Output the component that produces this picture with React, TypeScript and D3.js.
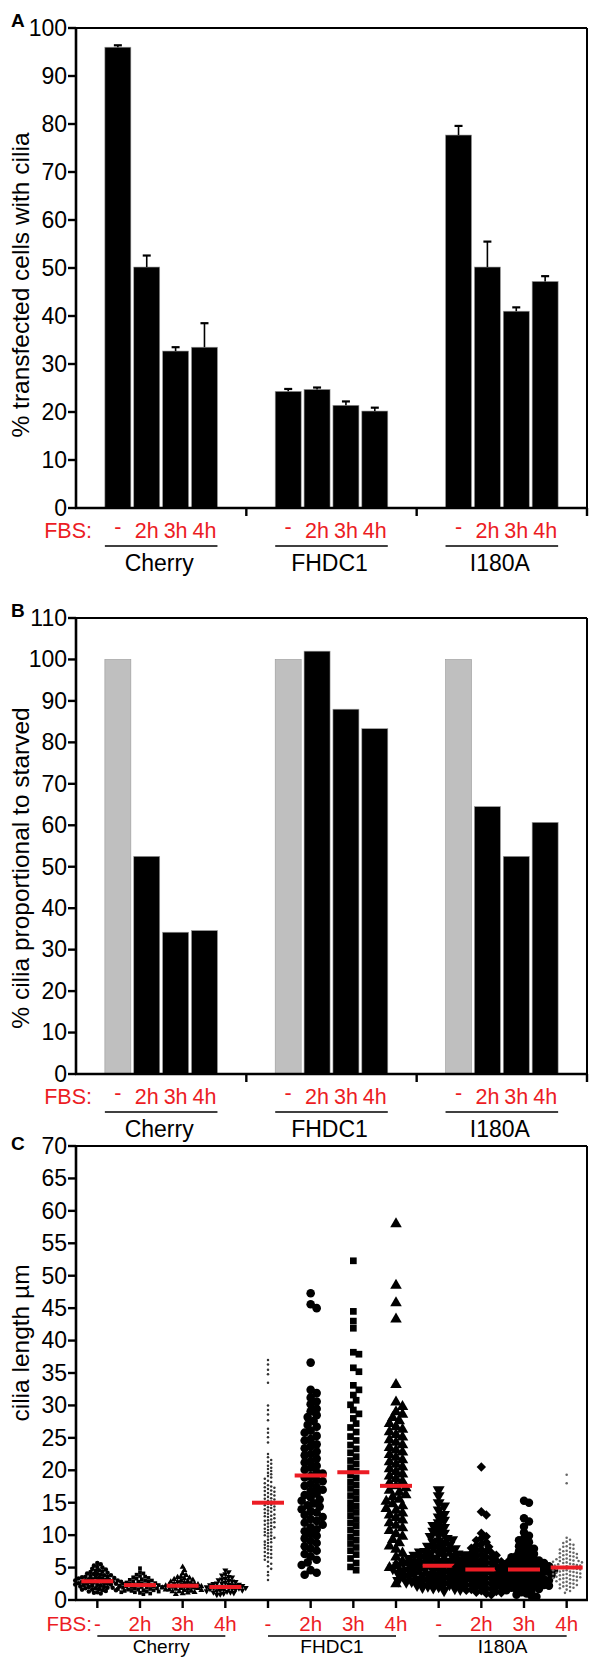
import * as d3 from 'd3'

const W = 589
const H = 1657
const FONT = 'Arial, "Liberation Sans", Helvetica, sans-serif'
const RED = '#ec1c24'
const X0 = 76
const X1 = 587

const groups = ['Cherry', 'FHDC1', 'I180A']
const conditions = ['-', '2h', '3h', '4h']
const keys = groups.flatMap(g => conditions.map(c => `${g}|${c}`))

// panel A: % transfected cells with cilia (mean, error)
const pctCilia = [96.0, 50.2, 32.7, 33.5, 24.3, 24.7, 21.4, 20.2, 77.7, 50.2, 41.0, 47.2]
const pctErr = [0.4, 2.4, 0.8, 5.0, 0.5, 0.4, 0.8, 0.7, 1.9, 5.3, 0.8, 1.1]

// panel B: % cilia relative to starved
const pctStarved = [100, 52.5, 34.2, 34.6, 100, 102.0, 88.0, 83.3, 100, 64.5, 52.5, 60.7]

// panel C: cilia length (um), one list per column
const lenCherryNeg = [5.7, 5.5, 5.3, 5.1, 5.0, 4.8, 4.7, 4.6, 4.5, 4.4, 4.3, 4.2, 4.1, 4.0, 4.0, 3.9, 3.8, 3.8, 3.7, 3.6, 3.6, 3.5, 3.5, 3.4, 3.4, 3.3, 3.3, 3.2, 3.2, 3.1, 3.1, 3.0, 3.0, 3.0, 2.9, 2.9, 2.8, 2.8, 2.8, 2.7, 2.7, 2.6, 2.6, 2.5, 2.5, 2.5, 2.4, 2.4, 2.3, 2.3, 2.2, 2.2, 2.1, 2.1, 2.0, 2.0, 1.9, 1.9, 1.8, 1.8, 1.7, 1.6, 1.6, 1.5, 1.5, 1.4, 1.3, 1.2, 1.1, 1.0]
const lenCherry2h = [4.9, 4.3, 4.1, 3.9, 3.7, 3.6, 3.5, 3.4, 3.3, 3.2, 3.1, 3.0, 3.0, 2.9, 2.8, 2.8, 2.7, 2.6, 2.6, 2.5, 2.5, 2.4, 2.4, 2.3, 2.3, 2.2, 2.2, 2.1, 2.1, 2.0, 2.0, 2.0, 1.9, 1.9, 1.8, 1.8, 1.7, 1.7, 1.6, 1.6, 1.5, 1.5, 1.4, 1.4, 1.3, 1.3, 1.2, 1.2, 1.1, 1.0, 0.9]
const lenCherry3h = [5.1, 4.6, 4.1, 3.8, 3.6, 3.5, 3.4, 3.3, 3.2, 3.1, 3.0, 2.9, 2.8, 2.8, 2.7, 2.6, 2.5, 2.5, 2.4, 2.4, 2.3, 2.3, 2.2, 2.2, 2.1, 2.1, 2.0, 2.0, 1.9, 1.9, 1.8, 1.8, 1.7, 1.7, 1.6, 1.6, 1.5, 1.5, 1.4, 1.3, 1.3, 1.2, 1.1, 1.0, 0.9]
const lenCherry4h = [4.6, 4.3, 4.0, 3.8, 3.6, 3.5, 3.3, 3.2, 3.1, 3.0, 2.9, 2.8, 2.7, 2.6, 2.6, 2.5, 2.4, 2.4, 2.3, 2.3, 2.2, 2.2, 2.1, 2.1, 2.0, 2.0, 1.9, 1.9, 1.8, 1.8, 1.7, 1.7, 1.6, 1.6, 1.5, 1.5, 1.4, 1.4, 1.3, 1.2, 1.2, 1.1, 1.0, 0.9, 0.8]
const lenFhdcNeg = [37.0, 36.3, 35.5, 34.8, 33.5, 30.0, 29.3, 28.6, 27.7, 26.4, 25.8, 25.1, 24.3, 22.5, 22.0, 21.6, 21.3, 21.0, 20.7, 20.4, 20.2, 19.9, 19.6, 19.4, 19.1, 18.9, 18.7, 18.4, 18.2, 18.0, 17.7, 17.5, 17.4, 17.3, 17.1, 16.9, 16.8, 16.7, 16.5, 16.3, 16.2, 16.1, 15.9, 15.7, 15.6, 15.5, 15.3, 15.2, 15.1, 14.9, 14.8, 14.7, 14.6, 14.4, 14.3, 14.2, 14.0, 13.9, 13.8, 13.6, 13.4, 13.3, 13.2, 13.0, 12.9, 12.8, 12.6, 12.4, 12.3, 12.2, 12.0, 11.9, 11.8, 11.6, 11.4, 11.3, 11.2, 11.0, 10.9, 10.8, 10.5, 10.4, 10.3, 10.0, 9.9, 9.8, 9.6, 9.4, 9.3, 9.0, 8.9, 8.8, 8.5, 8.3, 8.2, 8.0, 7.8, 7.7, 7.4, 7.2, 7.1, 6.8, 6.6, 6.5, 6.2, 5.9, 5.6, 5.2, 4.8, 4.3, 3.8, 3.1]
const lenFhdc2h = [47.3, 45.6, 45.0, 36.6, 32.4, 31.9, 31.2, 30.6, 30.2, 29.5, 29.1, 28.5, 28.2, 27.6, 27.0, 26.7, 26.1, 25.8, 25.3, 24.8, 24.6, 24.0, 23.7, 23.4, 22.9, 22.5, 22.3, 21.8, 21.4, 21.2, 20.7, 20.4, 20.1, 19.7, 19.5, 19.1, 18.9, 18.5, 18.3, 17.9, 17.6, 17.4, 17.0, 16.8, 16.4, 16.2, 15.8, 15.5, 15.3, 14.9, 14.6, 14.4, 14.0, 13.7, 13.5, 13.1, 12.8, 12.5, 12.2, 11.9, 11.6, 11.2, 10.9, 10.6, 10.2, 9.9, 9.5, 9.1, 8.8, 8.3, 7.9, 7.6, 7.1, 6.7, 6.2, 5.8, 5.4, 4.6, 4.2, 3.9]
const lenFhdc3h = [52.3, 44.5, 43.0, 41.9, 38.2, 37.9, 35.8, 35.2, 33.1, 32.4, 31.6, 30.8, 30.1, 29.3, 28.7, 28.0, 27.2, 26.6, 25.9, 25.2, 24.6, 23.9, 23.3, 22.7, 22.1, 21.5, 21.0, 20.4, 19.9, 19.3, 18.8, 18.2, 17.7, 17.2, 16.6, 16.1, 15.6, 15.0, 14.5, 14.0, 13.5, 13.0, 12.4, 11.9, 11.4, 10.8, 10.3, 9.7, 9.2, 8.7, 8.1, 7.6, 7.0, 6.4, 5.7, 5.1, 4.6]
const lenFhdc4h = [58.0, 48.5, 45.8, 43.3, 33.2, 30.5, 29.8, 29.0, 28.6, 28.1, 27.6, 27.2, 26.7, 26.3, 25.9, 25.5, 25.1, 24.7, 24.3, 23.9, 23.5, 23.1, 22.8, 22.4, 22.0, 21.6, 21.3, 20.9, 20.5, 20.2, 19.8, 19.4, 19.1, 18.7, 18.3, 18.0, 17.6, 17.3, 16.9, 16.6, 16.2, 15.9, 15.5, 15.2, 14.8, 14.5, 14.1, 13.8, 13.4, 13.1, 12.7, 12.3, 11.9, 11.5, 11.1, 10.7, 10.2, 9.8, 9.3, 8.8, 8.3, 7.8, 7.2, 6.6, 6.0, 5.5, 5.0, 2.5]
const lenI180Neg = [17.0, 16.1, 15.0, 14.5, 13.9, 13.2, 12.8, 12.3, 11.9, 11.5, 11.2, 10.9, 10.6, 10.3, 10.0, 9.8, 9.5, 9.3, 9.1, 8.9, 8.7, 8.5, 8.3, 8.2, 8.0, 7.9, 7.7, 7.6, 7.5, 7.4, 7.3, 7.2, 7.1, 7.0, 6.9, 6.8, 6.8, 6.7, 6.6, 6.5, 6.5, 6.4, 6.3, 6.2, 6.2, 6.1, 6.0, 6.0, 5.9, 5.8, 5.8, 5.7, 5.7, 5.6, 5.6, 5.5, 5.4, 5.4, 5.3, 5.3, 5.2, 5.2, 5.1, 5.0, 5.0, 4.9, 4.9, 4.8, 4.8, 4.7, 4.6, 4.6, 4.5, 4.5, 4.4, 4.4, 4.3, 4.2, 4.2, 4.1, 4.1, 4.0, 4.0, 3.9, 3.8, 3.8, 3.7, 3.7, 3.6, 3.6, 3.5, 3.4, 3.4, 3.3, 3.3, 3.2, 3.2, 3.1, 3.0, 3.0, 2.9, 2.9, 2.8, 2.8, 2.7, 2.6, 2.6, 2.5, 2.4, 2.3, 2.2, 2.1, 2.0, 1.9, 1.8, 1.7, 1.5]
const lenI1802h = [20.5, 13.6, 13.1, 10.3, 9.8, 9.5, 9.2, 8.9, 8.6, 8.4, 8.2, 8.0, 7.8, 7.6, 7.5, 7.3, 7.2, 7.0, 6.9, 6.8, 6.6, 6.5, 6.4, 6.3, 6.2, 6.1, 6.0, 5.9, 5.8, 5.7, 5.6, 5.5, 5.5, 5.4, 5.3, 5.2, 5.2, 5.1, 5.0, 4.9, 4.9, 4.8, 4.7, 4.7, 4.6, 4.5, 4.5, 4.4, 4.3, 4.3, 4.2, 4.1, 4.1, 4.0, 3.9, 3.9, 3.8, 3.7, 3.7, 3.6, 3.5, 3.5, 3.4, 3.3, 3.3, 3.2, 3.1, 3.1, 3.0, 2.9, 2.9, 2.8, 2.7, 2.7, 2.6, 2.5, 2.5, 2.4, 2.3, 2.3, 2.2, 2.1, 2.0, 1.9, 1.8, 1.7, 1.6, 1.5, 1.4, 1.3, 1.2, 1.1, 1.0, 0.8]
const lenI1803h = [15.3, 15.0, 12.6, 12.1, 11.3, 10.4, 9.9, 9.5, 9.2, 8.9, 8.6, 8.3, 8.1, 7.9, 7.7, 7.5, 7.3, 7.1, 6.9, 6.8, 6.6, 6.5, 6.3, 6.2, 6.1, 6.0, 5.9, 5.8, 5.7, 5.6, 5.5, 5.4, 5.3, 5.3, 5.2, 5.1, 5.0, 5.0, 4.9, 4.8, 4.7, 4.7, 4.6, 4.5, 4.4, 4.4, 4.3, 4.2, 4.1, 4.1, 4.0, 3.9, 3.8, 3.8, 3.7, 3.6, 3.5, 3.5, 3.4, 3.3, 3.2, 3.2, 3.1, 3.0, 2.9, 2.9, 2.8, 2.7, 2.6, 2.6, 2.5, 2.4, 2.3, 2.3, 2.2, 2.1, 2.0, 1.9, 1.8, 1.7, 1.6, 1.5, 1.4, 1.2, 1.0, 0.8, 0.6, 0.5]
const lenI1804h = [19.3, 18.0, 9.6, 9.3, 9.0, 8.8, 8.6, 8.5, 8.3, 8.2, 8.0, 7.9, 7.8, 7.6, 7.5, 7.4, 7.3, 7.2, 7.1, 7.0, 6.9, 6.8, 6.7, 6.6, 6.5, 6.4, 6.3, 6.3, 6.2, 6.1, 6.0, 6.0, 5.9, 5.8, 5.8, 5.7, 5.6, 5.5, 5.5, 5.4, 5.3, 5.3, 5.2, 5.1, 5.0, 5.0, 4.9, 4.8, 4.8, 4.7, 4.6, 4.6, 4.5, 4.4, 4.4, 4.3, 4.2, 4.2, 4.1, 4.0, 4.0, 3.9, 3.8, 3.8, 3.7, 3.6, 3.6, 3.5, 3.4, 3.4, 3.3, 3.2, 3.2, 3.1, 3.0, 2.9, 2.8, 2.7, 2.6, 2.5, 2.4, 2.3, 2.2, 2.1, 2.0, 1.9, 1.8, 1.6, 1.4, 1.1]
const lengths = [lenCherryNeg, lenCherry2h, lenCherry3h, lenCherry4h, lenFhdcNeg, lenFhdc2h, lenFhdc3h, lenFhdc4h, lenI180Neg, lenI1802h, lenI1803h, lenI1804h]
const lenMeans = [2.9, 2.3, 2.2, 2.0, 15.0, 19.2, 19.7, 17.6, 5.3, 4.7, 4.7, 5.0]

// marker look per column in panel C
const markers = [
  { shape: d3.symbolCircle, size: 16, rot: 0, fill: '#000', dist: 3.4 },
  { shape: d3.symbolSquare, size: 14, rot: 0, fill: '#000', dist: 3.4 },
  { shape: d3.symbolTriangle, size: 16, rot: 0, fill: '#000', dist: 3.4 },
  { shape: d3.symbolTriangle, size: 16, rot: 180, fill: '#000', dist: 3.4 },
  { shape: d3.symbolCircle, size: 5, rot: 0, fill: '#333', dist: 3.2 },
  { shape: d3.symbolCircle, size: 58, rot: 0, fill: '#000', dist: 6 },
  { shape: d3.symbolSquare, size: 45, rot: 0, fill: '#000', dist: 5.6 },
  { shape: d3.symbolTriangle, size: 58, rot: 0, fill: '#000', dist: 6.5 },
  { shape: d3.symbolTriangle, size: 62, rot: 180, fill: '#000', dist: 5.4 },
  { shape: d3.symbolSquare, size: 44, rot: 45, fill: '#000', dist: 5.0 },
  { shape: d3.symbolCircle, size: 56, rot: 0, fill: '#000', dist: 5.0 },
  { shape: d3.symbolCircle, size: 5, rot: 0, fill: '#666', dist: 3.4 },
]

// simple greedy beeswarm: x offsets for points at given pixel y
function swarm(ys: number[], dist: number) {
  const order = ys.map((y, i) => ({ y, i })).sort((a, b) => a.y - b.y)
  const placed: { x: number; y: number }[] = []
  const out = new Array(ys.length).fill(0)
  const step = dist * 0.5
  order.forEach(p => {
    let k = 0
    let x = 0
    while (true) {
      x = k === 0 ? 0 : (k % 2 ? 1 : -1) * Math.ceil(k / 2) * step
      const hit = placed.some(q => Math.abs(q.y - p.y) < dist && (q.x - x) ** 2 + (q.y - p.y) ** 2 < dist * dist)
      if (!hit) break
      k++
    }
    placed.push({ x, y: p.y })
    out[p.i] = x
  })
  return out
}

function YAxis({ y, ticks, top, bottom }: any) {
  return (
    <g>
      <line x1={X0} x2={X0} y1={top - 1} y2={bottom + 1} stroke="#000" strokeWidth={2.6} />
      {ticks.map((t: number) => (
        <g key={t}>
          <line x1={X0 - 8} x2={X0} y1={y(t)} y2={y(t)} stroke="#000" strokeWidth={2.4} />
          <text x={X0 - 9} y={y(t)} dy="0.34em" textAnchor="end" fontSize={23} fontFamily={FONT}>{t}</text>
        </g>
      ))}
    </g>
  )
}

function Frame({ top, bottom }: any) {
  return (
    <g stroke="#000" fill="none">
      <line x1={X0} x2={X1} y1={top} y2={top} strokeWidth={2} />
      <line x1={X1} x2={X1} y1={top} y2={bottom} strokeWidth={2} />
      <line x1={X0 - 1} x2={X1 + 1} y1={bottom} y2={bottom} strokeWidth={2.6} />
    </g>
  )
}

function BarPanel({ letter, top, bottom, max, values, errors, label, labelY }: any) {
  const y = d3.scaleLinear().domain([0, max]).range([bottom, top])
  const gx = d3.scaleBand().domain(groups).range([X0, X1])
  const cx = d3.scaleBand().domain(conditions).range([0, gx.bandwidth()]).paddingInner(0.1).paddingOuter(1)
  const ticks = d3.range(0, max + 1, 10)
  return (
    <g>
      <text x={11} y={top - 1} fontSize={19} fontWeight="bold" fontFamily={FONT}>{letter}</text>
      <text transform={`translate(29,${labelY}) rotate(-90)`} textAnchor="middle" fontSize={24.5} fontFamily={FONT}>{label}</text>
      {keys.map((k, i) => {
        const [g, c] = k.split('|')
        const x = gx(g)! + cx(c)!
        const fill = errors || c !== '-' ? '#000' : '#bfbfbf'
        return (
          <g key={k}>
            <rect x={x} y={y(values[i])} width={cx.bandwidth()} height={bottom - y(values[i])} fill={fill} stroke="#9a9a9a" strokeWidth={0.6} />
            {errors && (
              <g stroke="#000">
                <line x1={x + cx.bandwidth() / 2} x2={x + cx.bandwidth() / 2} y1={y(values[i])} y2={y(values[i] + errors[i])} strokeWidth={1.6} />
                <line x1={x + cx.bandwidth() / 2 - 4} x2={x + cx.bandwidth() / 2 + 4} y1={y(values[i] + errors[i])} y2={y(values[i] + errors[i])} strokeWidth={2.2} />
              </g>
            )}
          </g>
        )
      })}
      <Frame top={top} bottom={bottom} />
      <YAxis y={y} ticks={ticks} top={top} bottom={bottom} />
      {groups.map(g => (
        <line key={g} x1={gx(g)! + gx.bandwidth()} x2={gx(g)! + gx.bandwidth()} y1={bottom} y2={bottom + 8} stroke="#000" strokeWidth={2.4} />
      ))}
      <text x={92} y={bottom + 30} textAnchor="end" fontSize={21.5} fill={RED} fontFamily={FONT}>FBS:</text>
      {groups.map(g => (
        <g key={g}>
          {conditions.map(c => (
            <text key={c} x={gx(g)! + cx(c)! + cx.bandwidth() / 2} y={bottom + 30} dy={c === '-' ? -4 : 0} textAnchor="middle" fontSize={21.5} fill={RED} fontFamily={FONT}>{c}</text>
          ))}
          <line x1={gx(g)! + cx('-')!} x2={gx(g)! + cx('4h')! + cx.bandwidth()} y1={bottom + 38} y2={bottom + 38} stroke="#000" strokeWidth={1.6} />
          <text x={gx(g)! + gx.bandwidth() / 2 - 2} y={bottom + 63} textAnchor="middle" fontSize={23} fontFamily={FONT}>{g}</text>
        </g>
      ))}
    </g>
  )
}

function ScatterPanel({ top, bottom }: any) {
  const y = d3.scaleLinear().domain([0, 70]).range([bottom, top])
  const x = d3.scaleBand().domain(keys).range([X0, X1 + 1])
  const ticks = d3.range(0, 71, 5)
  return (
    <g>
      <text x={11} y={top + 4} fontSize={19} fontWeight="bold" fontFamily={FONT}>C</text>
      <text transform={`translate(29,1343) rotate(-90)`} textAnchor="middle" fontSize={24.5} fontFamily={FONT}>cilia length µm</text>
      {keys.map((k, i) => {
        const m = markers[i]
        const cx = x(k)! + x.bandwidth() / 2
        const ys = lengths[i].map(v => y(v))
        const dx = swarm(ys, m.dist)
        const path = d3.symbol().type(m.shape).size(m.size)()!
        return (
          <g key={k}>
            {ys.map((py, j) => (
              <path key={j} d={path} fill={m.fill} transform={`translate(${cx + dx[j]},${py}) rotate(${m.rot})`} />
            ))}
            <line x1={cx - 16} x2={cx + 16} y1={y(lenMeans[i])} y2={y(lenMeans[i])} stroke={RED} strokeWidth={4} />
          </g>
        )
      })}
      <Frame top={top} bottom={bottom} />
      <YAxis y={y} ticks={ticks} top={top} bottom={bottom} />
      {keys.map(k => (
        <line key={k} x1={x(k)! + x.bandwidth() / 2} x2={x(k)! + x.bandwidth() / 2} y1={bottom} y2={bottom + 8} stroke="#000" strokeWidth={2.4} />
      ))}
      <text x={92} y={1631} textAnchor="end" fontSize={20.5} fill={RED} fontFamily={FONT}>FBS:</text>
      {groups.map(g => (
        <g key={g}>
          {conditions.map(c => (
            <text key={c} x={x(`${g}|${c}`)! + x.bandwidth() / 2} y={1631} textAnchor="middle" fontSize={20.5} fill={RED} fontFamily={FONT}>{c}</text>
          ))}
          <line x1={x(`${g}|-`)! + x.bandwidth() / 2} x2={x(`${g}|4h`)! + x.bandwidth() / 2} y1={1636} y2={1636} stroke="#000" strokeWidth={1.6} />
          <text x={(x(`${g}|-`)! + x(`${g}|4h`)! + x.bandwidth()) / 2} y={1652.5} textAnchor="middle" fontSize={19} fontFamily={FONT}>{g}</text>
        </g>
      ))}
    </g>
  )
}

export default function App() {
  return (
    <svg width={W} height={H} style={{ position: 'absolute', left: 0, top: 0, background: '#fff' }}>
      <rect width={W} height={H} fill="#fff" />
      <BarPanel letter="A" top={28} bottom={508} max={100} values={pctCilia} errors={pctErr} label="% transfected cells with cilia" labelY={285} />
      <BarPanel letter="B" top={618} bottom={1074} max={110} values={pctStarved} label="% cilia proportional to starved" labelY={868} />
      <ScatterPanel top={1146} bottom={1600} />
    </svg>
  )
}
